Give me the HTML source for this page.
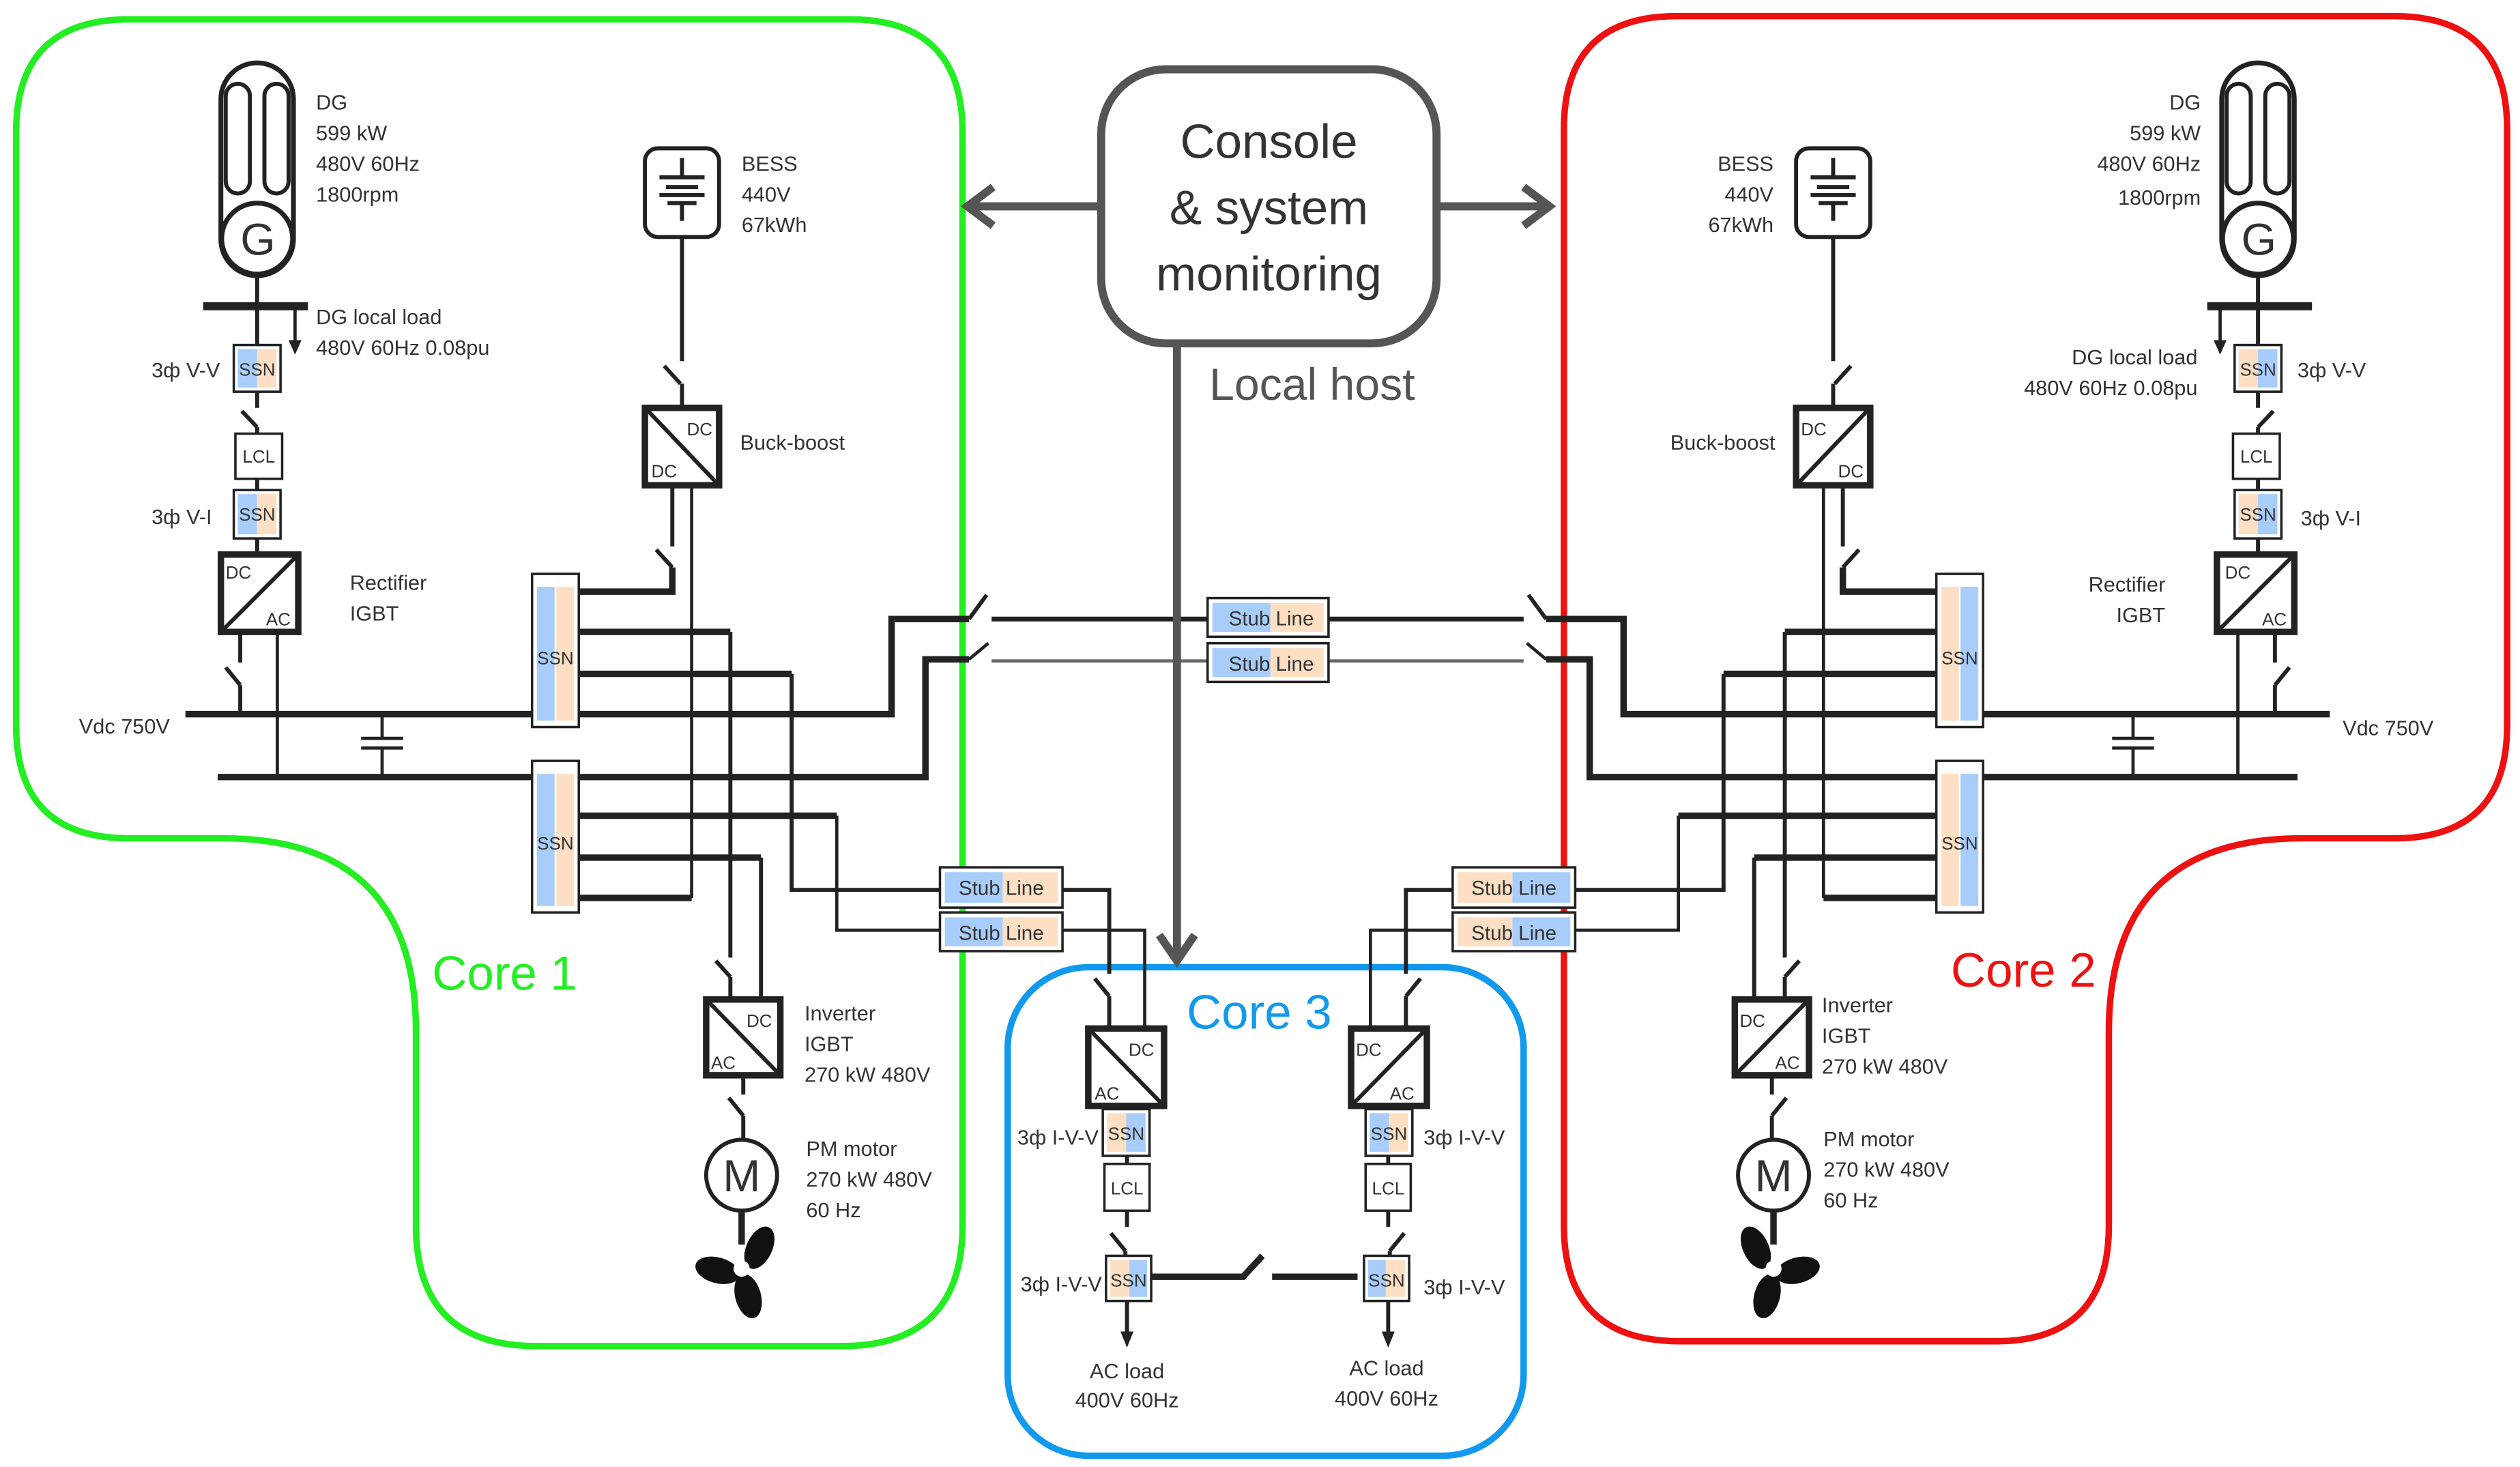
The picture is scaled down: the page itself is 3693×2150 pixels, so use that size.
<!DOCTYPE html>
<html><head><meta charset="utf-8">
<style>
html,body{margin:0;padding:0;background:#fff;}
svg{display:block;}
text{font-family:"Liberation Sans","DejaVu Sans",sans-serif;fill:#333;}
</style></head>
<body>
<svg width="3693" height="2150" viewBox="0 0 1563 910" preserveAspectRatio="none" xmlns="http://www.w3.org/2000/svg">
<rect width="1563" height="910" fill="#fff"/>

<path d="M80,12 H527 Q597,12 597,82 V760 Q597,835 522,835 H333 Q258,835 258,760 V640 Q258,520 138,520 H80 Q10,520 10,450 V82 Q10,12 80,12 Z" fill="none" stroke="#22ee22" stroke-width="4"/>
<path d="M1040,10 H1485 Q1555,10 1555,80 V450 Q1555,520 1485,520 H1428 Q1308,520 1308,640 V760 Q1308,832 1238,832 H1042 Q970,832 970,760 V80 Q970,10 1040,10 Z" fill="none" stroke="#ee1111" stroke-width="4"/>
<rect x="625" y="600" width="320" height="303" rx="50" fill="none" stroke="#1199ee" stroke-width="4"/>

<g id="c1" fill="none" stroke="#222" stroke-width="2.5">
  <rect x="137" y="39" width="45" height="132" rx="22.5" fill="#fff" stroke-width="3"/>
  <rect x="140" y="52" width="15" height="68" rx="7.5" stroke-width="2.5"/>
  <rect x="164" y="52" width="15" height="68" rx="7.5" stroke-width="2.5"/>
  <circle cx="159.5" cy="148" r="22" fill="#fff" stroke-width="3"/>
  <line x1="159.5" y1="171" x2="159.5" y2="214"/>
  <line x1="126" y1="190" x2="191" y2="190" stroke-width="5"/>
  <line x1="183" y1="190" x2="183" y2="212" stroke-width="2"/>
  <polygon points="179,211 187,211 183,220" fill="#222" stroke="none"/>
  <rect x="145" y="214" width="29" height="29" fill="#fff" stroke-width="1.5"/>
  <rect x="147.5" y="216.5" width="12" height="24" fill="#a8cdfa" stroke="none"/>
  <rect x="159.5" y="216.5" width="12" height="24" fill="#fde0c4" stroke="none"/>
  <line x1="159.5" y1="243" x2="159.5" y2="253"/>
  <line x1="150" y1="255" x2="159.5" y2="265"/>
  <line x1="159.5" y1="265" x2="159.5" y2="269"/>
  <rect x="146" y="269" width="29" height="28" fill="#fff" stroke-width="1.5"/>
  <line x1="159.5" y1="297" x2="159.5" y2="304"/>
  <rect x="145" y="304" width="29" height="30" fill="#fff" stroke-width="1.5"/>
  <rect x="147.5" y="306.5" width="12" height="25" fill="#a8cdfa" stroke="none"/>
  <rect x="159.5" y="306.5" width="12" height="25" fill="#fde0c4" stroke="none"/>
  <line x1="159.5" y1="334" x2="159.5" y2="344"/>
  <rect x="137" y="344" width="48" height="48" fill="#fff" stroke-width="4"/>
  <line x1="149" y1="392" x2="149" y2="411"/>
  <line x1="140" y1="414" x2="149" y2="425"/>
  <line x1="149" y1="425" x2="149" y2="443"/>
  <line x1="172" y1="392" x2="172" y2="482" stroke-width="2"/>
  <path d="M115,443 H553 V384 H601" stroke-width="4"/>
  <line x1="601" y1="384" x2="612" y2="369"/>
  <path d="M135,482 H574 V409 H601" stroke-width="4"/>
  <line x1="601" y1="409" x2="613" y2="399" stroke-width="2"/>
  <line x1="237" y1="443" x2="237" y2="458" stroke-width="2"/>
  <line x1="224" y1="458" x2="250" y2="458" stroke-width="2"/>
  <line x1="224" y1="464" x2="250" y2="464" stroke-width="2"/>
  <line x1="237" y1="464" x2="237" y2="482" stroke-width="2"/>
  <rect x="400" y="92" width="46" height="55" rx="8" fill="#fff"/>
  <line x1="423" y1="98" x2="423" y2="110"/>
  <line x1="409" y1="110" x2="437" y2="110"/>
  <line x1="413" y1="116" x2="433" y2="116"/>
  <line x1="409" y1="121" x2="437" y2="121"/>
  <line x1="414" y1="126" x2="432" y2="126"/>
  <line x1="423" y1="126" x2="423" y2="137"/>
  <line x1="423" y1="147" x2="423" y2="224"/>
  <line x1="412" y1="227" x2="422" y2="238"/>
  <line x1="423" y1="238" x2="423" y2="253"/>
  <rect x="400" y="253" width="46" height="48" fill="#fff" stroke-width="4"/>
  <line x1="417" y1="301" x2="417" y2="339"/>
  <line x1="407" y1="341" x2="417" y2="352"/>
  <path d="M417,352 V367 H359" stroke-width="4"/>
  <line x1="429" y1="301" x2="429" y2="557" stroke-width="2"/>
  <path d="M429,557 H359" stroke-width="4"/>
  <rect x="330" y="356" width="29" height="95" fill="#fff" stroke-width="1.5"/>
  <rect x="333" y="364" width="11" height="83" fill="#a8cdfa" stroke="none"/>
  <rect x="345" y="364" width="11" height="83" fill="#fde0c4" stroke="none"/>
  <rect x="330" y="472" width="29" height="94" fill="#fff" stroke-width="1.5"/>
  <rect x="333" y="480" width="11" height="82" fill="#a8cdfa" stroke="none"/>
  <rect x="345" y="480" width="11" height="82" fill="#fde0c4" stroke="none"/>
  <path d="M359,392 H453" stroke-width="4"/>
  <line x1="453" y1="392" x2="453" y2="594"/>
  <line x1="444" y1="596" x2="453" y2="606"/>
  <line x1="453" y1="606" x2="453" y2="620"/>
  <path d="M359,418 H491" stroke-width="4"/>
  <path d="M491,418 V552 H583" stroke-width="2.5"/>
  <path d="M359,506 H519" stroke-width="4"/>
  <path d="M519,506 V577 H583" stroke-width="2"/>
  <path d="M359,532 H472" stroke-width="4"/>
  <line x1="472" y1="532" x2="472" y2="620"/>
  <rect x="438" y="620" width="46" height="47" fill="#fff" stroke-width="4"/>
  <line x1="461" y1="667" x2="461" y2="679"/>
  <line x1="452" y1="681" x2="461" y2="692"/>
  <line x1="461" y1="692" x2="461" y2="707"/>
  <circle cx="460" cy="729" r="22" fill="#fff"/>
  <line x1="460" y1="751" x2="460" y2="772" stroke-width="4"/>
  <g fill="#111" stroke="none">
    <ellipse cx="471" cy="774" rx="8" ry="14" transform="rotate(25 471 774)"/>
    <ellipse cx="445" cy="788" rx="8" ry="14" transform="rotate(-75 445 788)"/>
    <ellipse cx="464" cy="804" rx="8" ry="14" transform="rotate(-15 464 804)"/>
    <circle cx="460" cy="787" r="5" fill="#fff"/>
  </g>
  <rect x="583" y="538" width="76" height="25" fill="#fff" stroke-width="1.5"/>
  <rect x="586" y="541" width="36" height="19" fill="#a8cdfa" stroke="none"/>
  <rect x="622" y="541" width="34" height="19" fill="#fde0c4" stroke="none"/>
  <rect x="583" y="566" width="76" height="24" fill="#fff" stroke-width="1.5"/>
  <rect x="586" y="569" width="36" height="18" fill="#a8cdfa" stroke="none"/>
  <rect x="622" y="569" width="34" height="18" fill="#fde0c4" stroke="none"/>
  <path d="M659,552 H688 V604" stroke-width="2.5"/>
  <line x1="679" y1="607" x2="688" y2="618"/>
  <line x1="688" y1="618" x2="688" y2="638"/>
  <path d="M659,577 H710 V638" stroke-width="2"/>
  <rect x="675" y="638" width="47" height="48" fill="#fff" stroke-width="4"/>
  <rect x="684" y="688" width="29" height="29" fill="#fff" stroke-width="1.5"/>
  <rect x="686.5" y="690.5" width="12" height="24" fill="#fde0c4" stroke="none"/>
  <rect x="698.5" y="690.5" width="12" height="24" fill="#a8cdfa" stroke="none"/>
  <line x1="699" y1="717" x2="699" y2="722"/>
  <rect x="685" y="722" width="28" height="29" fill="#fff" stroke-width="1.5"/>
  <line x1="699" y1="751" x2="699" y2="761"/>
  <line x1="689" y1="765" x2="698" y2="776"/>
  <line x1="698" y1="776" x2="698" y2="779"/>
  <rect x="686" y="779" width="28" height="28" fill="#fff" stroke-width="1.5"/>
  <rect x="688.5" y="781.5" width="12" height="23" fill="#fde0c4" stroke="none"/>
  <rect x="700.5" y="781.5" width="11" height="23" fill="#a8cdfa" stroke="none"/>
  <line x1="699" y1="807" x2="699" y2="827"/>
  <polygon points="695,826 703,826 699,836" fill="#222" stroke="none"/>
</g>
<use href="#c1" transform="translate(1560,0) scale(-1,1)"/>

<g stroke="#222" stroke-width="2.5">
  <line x1="139" y1="390" x2="183" y2="346"/>
  <line x1="402" y1="255" x2="444" y2="299"/>
  <line x1="440" y1="622" x2="482" y2="665"/>
  <line x1="677" y1="640" x2="720" y2="684"/>
  <line x1="1377" y1="390" x2="1421" y2="346"/>
  <line x1="1116" y1="299" x2="1158" y2="255"/>
  <line x1="1078" y1="665" x2="1120" y2="622"/>
  <line x1="840" y1="684" x2="883" y2="640"/>
</g>

<g fill="none">
  <line x1="615" y1="384" x2="749" y2="384" stroke="#222" stroke-width="3"/>
  <line x1="824" y1="384" x2="945" y2="384" stroke="#222" stroke-width="3"/>
  <line x1="615" y1="410" x2="749" y2="410" stroke="#666" stroke-width="2"/>
  <line x1="824" y1="410" x2="945" y2="410" stroke="#666" stroke-width="2"/>
  <rect x="749" y="371" width="75" height="24" fill="#fff" stroke="#222" stroke-width="1.5"/>
  <rect x="752" y="374" width="36" height="18" fill="#a8cdfa"/>
  <rect x="788" y="374" width="33" height="18" fill="#fde0c4"/>
  <rect x="749" y="399" width="75" height="24" fill="#fff" stroke="#222" stroke-width="1.5"/>
  <rect x="752" y="402" width="36" height="18" fill="#a8cdfa"/>
  <rect x="788" y="402" width="33" height="18" fill="#fde0c4"/>
  <path d="M714,792 H771 L783,779" stroke="#222" stroke-width="4"/>
  <path d="M789,792 H842" stroke="#222" stroke-width="4"/>
</g>

<g fill="none" stroke="#555" stroke-width="5">
  <rect x="683" y="43" width="208" height="170" rx="40" fill="#fff"/>
  <line x1="683" y1="128" x2="600" y2="128"/>
  <polyline points="616,116 600,128 616,140"/>
  <line x1="891" y1="128" x2="961" y2="128"/>
  <polyline points="945,116 961,128 945,140"/>
  <line x1="730" y1="213" x2="730" y2="595"/>
  <polyline points="719,580 730,596 741,580"/>
</g>
<g font-size="30" text-anchor="middle" style="fill:#333">
  <text x="787" y="98">Console</text>
  <text x="787" y="139">&amp; system</text>
  <text x="787" y="180">monitoring</text>
</g>
<text x="750" y="248" font-size="28" style="fill:#555">Local host</text>

<text x="268" y="614" font-size="30" style="fill:#22ee22">Core 1</text>
<text x="1210" y="612" font-size="30" style="fill:#ee1111">Core 2</text>
<text x="736" y="638" font-size="30" style="fill:#1199ee">Core 3</text>

<g font-size="28" text-anchor="middle">
  <text x="160" y="158">G</text>
  <text x="1401" y="158">G</text>
  <text x="460" y="739">M</text>
  <text x="1100" y="739">M</text>
</g>

<g font-size="13">
  <text x="196" y="68">DG</text>
  <text x="196" y="87">599 kW</text>
  <text x="196" y="106">480V 60Hz</text>
  <text x="196" y="125">1800rpm</text>
  <text x="460" y="106">BESS</text>
  <text x="460" y="125">440V</text>
  <text x="460" y="144">67kWh</text>
  <text x="196" y="201">DG local load</text>
  <text x="196" y="220">480V 60Hz 0.08pu</text>
  <text x="94" y="234">3ф V-V</text>
  <text x="94" y="325">3ф V-I</text>
  <text x="459" y="279">Buck-boost</text>
  <text x="217" y="366">Rectifier</text>
  <text x="217" y="385">IGBT</text>
  <text x="49" y="455">Vdc 750V</text>
  <text x="499" y="633">Inverter</text>
  <text x="499" y="652">IGBT</text>
  <text x="499" y="671">270 kW 480V</text>
  <text x="500" y="717">PM motor</text>
  <text x="500" y="736">270 kW 480V</text>
  <text x="500" y="755">60 Hz</text>
</g>
<g font-size="13" text-anchor="end">
  <text x="1365" y="68">DG</text>
  <text x="1365" y="87">599 kW</text>
  <text x="1365" y="106">480V 60Hz</text>
  <text x="1365" y="127">1800rpm</text>
  <text x="1100" y="106">BESS</text>
  <text x="1100" y="125">440V</text>
  <text x="1100" y="144">67kWh</text>
  <text x="1363" y="226">DG local load</text>
  <text x="1363" y="245">480V 60Hz 0.08pu</text>
  <text x="1101" y="279">Buck-boost</text>
  <text x="1343" y="367">Rectifier</text>
  <text x="1343" y="386">IGBT</text>
</g>
<g font-size="13">
  <text x="1425" y="234">3ф V-V</text>
  <text x="1427" y="326">3ф V-I</text>
  <text x="1453" y="456">Vdc 750V</text>
  <text x="1130" y="628">Inverter</text>
  <text x="1130" y="647">IGBT</text>
  <text x="1130" y="666">270 kW 480V</text>
  <text x="1131" y="711">PM motor</text>
  <text x="1131" y="730">270 kW 480V</text>
  <text x="1131" y="749">60 Hz</text>
</g>
<g font-size="13">
  <text x="631" y="710">3ф I-V-V</text>
  <text x="633" y="801">3ф I-V-V</text>
  <text x="883" y="710">3ф I-V-V</text>
  <text x="883" y="803">3ф I-V-V</text>
  <text x="699" y="855" text-anchor="middle">AC load</text>
  <text x="699" y="873" text-anchor="middle">400V 60Hz</text>
  <text x="860" y="853" text-anchor="middle">AC load</text>
  <text x="860" y="872" text-anchor="middle">400V 60Hz</text>
</g>

<g font-size="11" text-anchor="middle">
  <text x="159.5" y="233">SSN</text>
  <text x="160.5" y="287">LCL</text>
  <text x="159.5" y="323">SSN</text>
  <text x="1400.5" y="233">SSN</text>
  <text x="1399.5" y="287">LCL</text>
  <text x="1400.5" y="323">SSN</text>
  <text x="344.5" y="412">SSN</text>
  <text x="344.5" y="527">SSN</text>
  <text x="1215.5" y="412">SSN</text>
  <text x="1215.5" y="527">SSN</text>
  <text x="698.5" y="707">SSN</text>
  <text x="699" y="741">LCL</text>
  <text x="700" y="798">SSN</text>
  <text x="861.5" y="707">SSN</text>
  <text x="861" y="741">LCL</text>
  <text x="860" y="798">SSN</text>
</g>
<g font-size="11">
  <text x="140" y="359">DC</text>
  <text x="165" y="388">AC</text>
  <text x="426" y="270">DC</text>
  <text x="404" y="296">DC</text>
  <text x="463" y="637">DC</text>
  <text x="441" y="663">AC</text>
  <text x="700" y="655">DC</text>
  <text x="679" y="682">AC</text>
  <text x="1380" y="359">DC</text>
  <text x="1403" y="388">AC</text>
  <text x="1117" y="270">DC</text>
  <text x="1140" y="296">DC</text>
  <text x="1079" y="637">DC</text>
  <text x="1101" y="663">AC</text>
  <text x="841" y="655">DC</text>
  <text x="862" y="682">AC</text>
</g>
<g font-size="12.5" text-anchor="middle">
  <text x="788.5" y="388">Stub Line</text>
  <text x="788.5" y="416">Stub Line</text>
  <text x="621" y="555">Stub Line</text>
  <text x="621" y="583">Stub Line</text>
  <text x="939" y="555">Stub Line</text>
  <text x="939" y="583">Stub Line</text>
</g>
</svg>
</body></html>
